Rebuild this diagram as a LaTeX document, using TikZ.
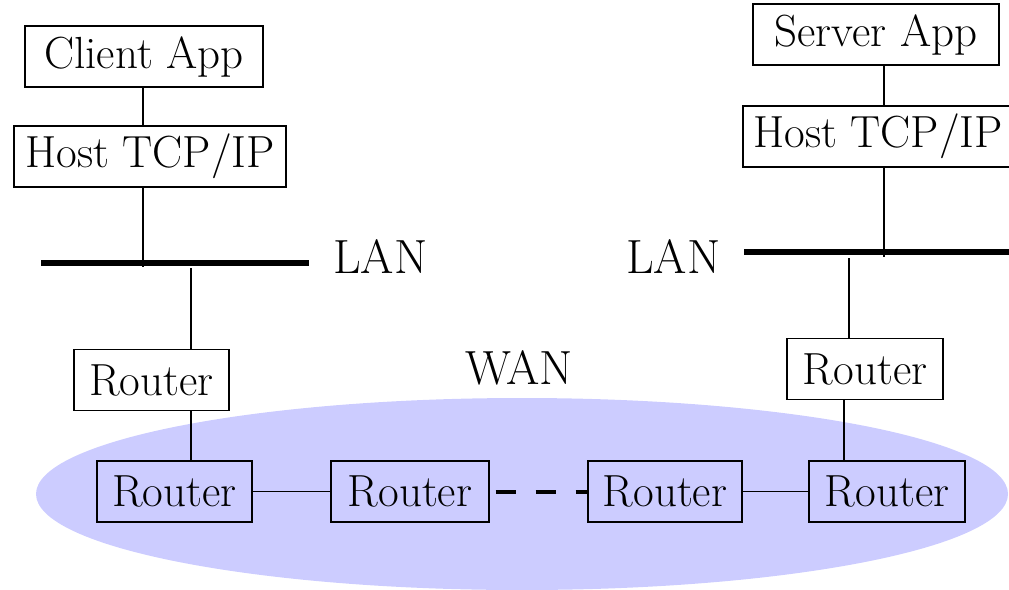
\documentclass[tikz,border=0pt]{standalone}
\usepackage{fontspec}
\begin{document}
\begin{tikzpicture}[x=1pt,y=-1pt,
  every node/.style={font=\rmfamily\fontsize{45}{49}\selectfont},
  box/.style={draw, line width=1.2pt, inner sep=0pt, minimum height=61pt},
  conn/.style={line width=1.2pt},
  lanbar/.style={line width=5.5pt},
  dashline/.style={line width=4pt, dash pattern=on 20pt off 20pt, dash phase=34pt},
  lbl/.style={anchor=base west, inner sep=0pt, font=\rmfamily\fontsize{48}{52}\selectfont}]
\useasboundingbox (0,0) rectangle (1009,589);
\definecolor{wanfill}{HTML}{CCCCFF}
% WAN cloud
\fill[wanfill] (522,494) ellipse [x radius=486pt, y radius=96pt];
% left host
\node[box, minimum width=238pt] (capp) at (144,56.5) {Client App};
\node[box, minimum width=272pt] (chost) at (150,156.5) {Host TCP/IP};
% right host
\node[box, minimum width=246pt] (sapp) at (876,34.5) {Server App};
\node[box, minimum width=270pt] (shost) at (878,136.5) {Host TCP/IP};
% routers
\node[box, minimum width=155pt] (rL) at (151.5,380) {Router};
\node[box, minimum width=156pt] (rR) at (865,369) {Router};
\node[box, minimum width=155pt] (rB1) at (174.5,491.5) {Router};
\node[box, minimum width=158pt] (rB2) at (410,491.5) {Router};
\node[box, minimum width=154pt] (rB3) at (665,491.5) {Router};
\node[box, minimum width=156pt] (rB4) at (887,491.5) {Router};
% labels
\node[lbl] (lanLt) at (333,273) {LAN};
\node[lbl] (lanRt) at (626,273) {LAN};
\node[lbl] (want) at (465,384) {WAN};
% LAN bars
\coordinate (lanL1) at (41,263);
\coordinate (lanL2) at (309,263);
\coordinate (lanR1) at (744,252);
\coordinate (lanR2) at (1012,252);
\draw[lanbar] (lanL1) -- (lanL2);
\draw[lanbar] (lanR1) -- (lanR2);
% left connectors
\coordinate (c1) at (143,267);
\coordinate (c2) at (191,268);
\draw[conn] (capp.south -| c1) -- (chost.north -| c1);
\draw[conn] (chost.south -| c1) -- (c1);
\draw[conn] (c2) -- (c2 |- rL.north);
\draw[conn] (rL.south -| c2) -- (rB1.north -| c2);
% right connectors
\coordinate (s1) at (884,257);
\coordinate (s2) at (849,258);
\coordinate (s3) at (844,0);
\draw[conn] (sapp.south -| s1) -- (shost.north -| s1);
\draw[conn] (shost.south -| s1) -- (s1);
\draw[conn] (s2) -- (s2 |- rR.north);
\draw[conn] (rR.south -| s3) -- (rB4.north -| s3);
% WAN links
\draw[conn] (rB1) -- (rB2);
\draw[dashline] (rB2.east) -- (rB3.west);
\draw[conn] (rB3) -- (rB4);
\end{tikzpicture}
\end{document}
